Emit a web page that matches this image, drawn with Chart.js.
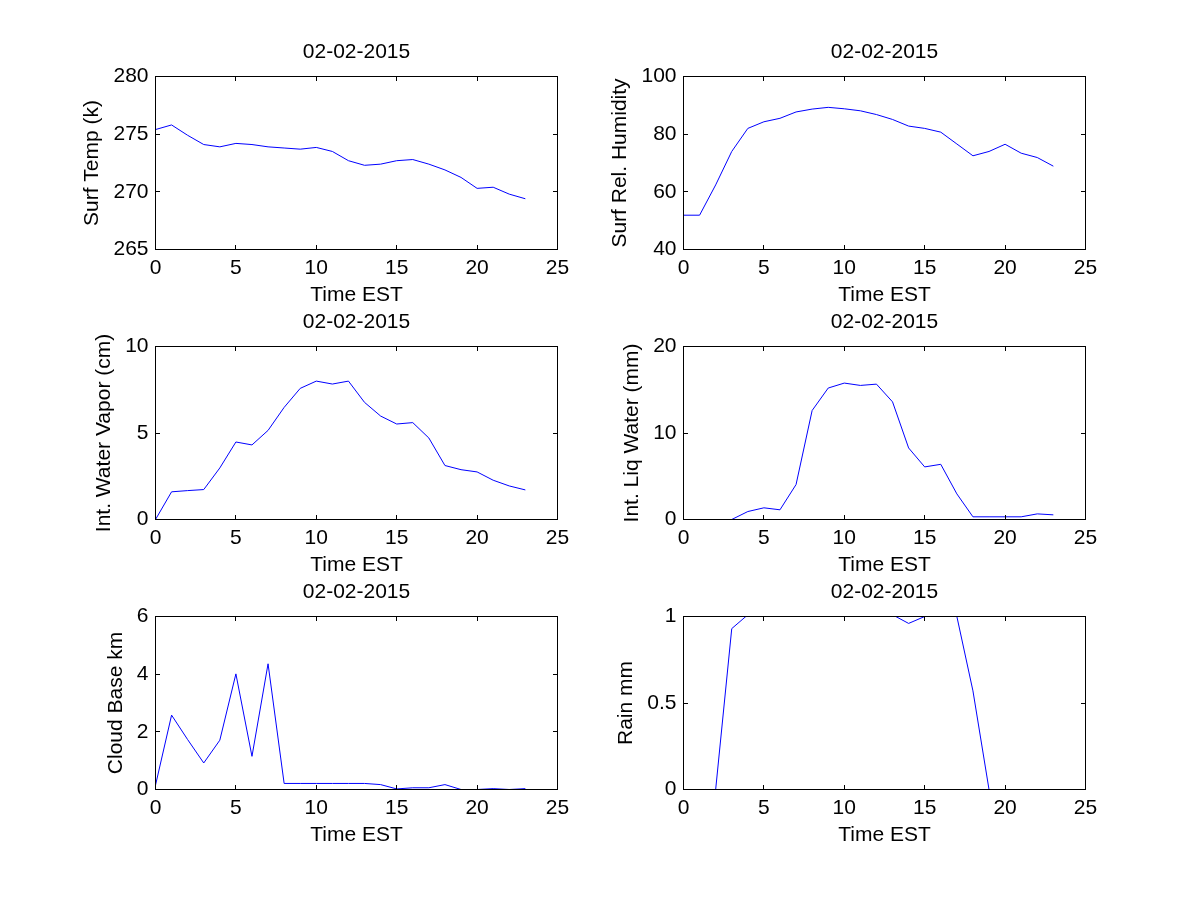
<!DOCTYPE html>
<html>
<head>
<meta charset="utf-8">
<title>02-02-2015</title>
<script src="https://cdn.jsdelivr.net/npm/chart.js@4.4.1/dist/chart.umd.min.js"></script>
<style>
  body { margin: 0; background: #fff; }
  #fig { position: relative; width: 1200px; height: 900px; background: #fff; overflow: hidden; }
  #fig canvas { position: absolute; }
</style>
</head>
<body>
<div id="fig"></div>
<script>
// data (hourly, EST)
const hours = [0,1,2,3,4,5,6,7,8,9,10,11,12,13,14,15,16,17,18,19,20,21,22,23];
const dateLabel = '02-02-2015';
const xTitle = 'Time EST';
const xTicks = [0, 25, 5];

const surfTemp = [275.4,275.8,274.9,274.1,273.9,274.2,274.1,273.9,273.8,273.7,273.85,273.5,272.7,272.3,272.4,272.7,272.8,272.4,271.9,271.25,270.3,270.4,269.8,269.4];
const surfHumidity = [51.9,51.9,62.4,74,82,84.3,85.5,87.7,88.7,89.3,88.8,88.1,86.8,85.1,82.8,82.0,80.7,76.6,72.5,74,76.5,73.4,71.9,68.9];
const waterVapor = [0,1.6,1.67,1.73,2.98,4.48,4.31,5.15,6.48,7.58,8.0,7.83,8.0,6.77,5.98,5.52,5.6,4.71,3.12,2.88,2.75,2.27,1.94,1.71];
const liqWater = [0,0,0,0,0.92,1.35,1.12,4.04,12.6,15.2,15.77,15.5,15.65,13.6,8.27,6.08,6.38,2.96,0.31,0.31,0.31,0.31,0.65,0.54];
const cloudBase = [0.15,2.58,1.73,0.92,1.71,4.01,1.15,4.36,0.21,0.21,0.21,0.21,0.21,0.21,0.17,0.02,0.06,0.06,0.17,0,0,0.03,0,0.03];
const rain = [0,0,0,0.93,1.01,1.6,2.4,3.1,3.5,3.2,2.8,2.1,1.4,1.01,0.96,1.0,1.2,1.0,0.57,0,0,0,0,0];

// panels: [column, row, y label, yMin, yMax, yStep, series]
const panels = [
  [0, 0, 'Surf Temp (k)', 265, 280, 5, surfTemp],
  [1, 0, 'Surf Rel. Humidity', 40, 100, 20, surfHumidity],
  [0, 1, 'Int. Water Vapor (cm)', 0, 10, 5, waterVapor],
  [1, 1, 'Int. Liq Water (mm)', 0, 20, 10, liqWater],
  [0, 2, 'Cloud Base km', 0, 6, 2, cloudBase],
  [1, 2, 'Rain mm', 0, 1, 0.5, rain]
];

const FONT = '"Liberation Sans", Arial, Helvetica, sans-serif';
const FS = 21;
const colLeft = [156, 684];
const rowTop = [77, 347, 617];
const PW = 402, PH = 173;
// half-pixel edges so the frame and a zero line land on the same pixel row
const AX_W = 99.5, PAD_R = 30.5, TITLE_H = 44.5, AX_H = 70.5;
const TICK = 4.5;

const measure = document.createElement('canvas').getContext('2d');
measure.font = FS + 'px ' + FONT;
const fmt = v => String(+(+v).toFixed(2));

// box round the axes with inward ticks on all four sides, like matlab
const boxPlugin = {
  id: 'box',
  afterDatasetsDraw(chart) {
    const { ctx, chartArea: a, scales: { x, y } } = chart;
    const half = p => Math.round(p - 0.5) + 0.5;
    ctx.save();
    ctx.strokeStyle = '#000';
    ctx.lineWidth = 1;
    ctx.beginPath();
    x.ticks.forEach(t => {
      const px = half(x.getPixelForValue(t.value));
      ctx.moveTo(px, a.bottom); ctx.lineTo(px, a.bottom - TICK);
      ctx.moveTo(px, a.top); ctx.lineTo(px, a.top + TICK);
    });
    y.ticks.forEach(t => {
      const py = half(y.getPixelForValue(t.value));
      ctx.moveTo(a.left, py); ctx.lineTo(a.left + TICK, py);
      ctx.moveTo(a.right, py); ctx.lineTo(a.right - TICK, py);
    });
    ctx.stroke();
    ctx.strokeRect(a.left, a.top, a.right - a.left, a.bottom - a.top);
    ctx.restore();
  }
};

function makePanel(col, row, yLabel, yMin, yMax, yStep, series) {
  const canvas = document.createElement('canvas');
  canvas.width = 100 + PW + 30;
  canvas.height = 45 + PH + 70;
  canvas.style.left = (colLeft[col] - 100) + 'px';
  canvas.style.top = (rowTop[row] - 45) + 'px';
  document.getElementById('fig').appendChild(canvas);

  // widest y tick label, so the y label sits just left of it
  let labelW = 0;
  for (let v = yMin; v <= yMax + 1e-9; v += yStep) {
    labelW = Math.max(labelW, measure.measureText(fmt(v)).width);
  }
  const yTitlePad = Math.max(0, AX_W - 8 - labelW - 20 - FS * 0.6);

  const points = hours.map((h, i) => ({ x: h, y: series[i] }));
  return new Chart(canvas, {
    type: 'scatter',
    data: { datasets: [{ data: points, showLine: true, borderColor: '#0000ff', borderWidth: 1,
      pointRadius: 0, pointHoverRadius: 0, tension: 0, clip: 0 }] },
    options: {
      responsive: false, animation: false, devicePixelRatio: 1,
      layout: { padding: { left: 0, right: PAD_R, top: 0, bottom: 0 } },
      plugins: {
        legend: { display: false }, tooltip: { enabled: false },
        title: { display: true, fullSize: false, text: dateLabel, color: '#000',
          font: { family: FONT, size: FS, weight: 'normal' },
          padding: { top: 7.5, bottom: TITLE_H - 7.5 - FS * 1.2 } }
      },
      scales: {
        x: {
          type: 'linear', min: xTicks[0], max: xTicks[1],
          grid: { display: false, drawTicks: false }, border: { display: false },
          ticks: { stepSize: xTicks[2], color: '#000', font: { family: FONT, size: FS }, padding: 6, maxRotation: 0, callback: fmt },
          title: { display: true, text: xTitle, color: '#000', font: { family: FONT, size: FS }, padding: { top: 0, bottom: 12.4 } },
          afterFit(s) { s.height = AX_H; }
        },
        y: {
          min: yMin, max: yMax,
          grid: { display: false, drawTicks: false }, border: { display: false },
          ticks: { stepSize: yStep, color: '#000', font: { family: FONT, size: FS }, padding: 7, callback: fmt },
          title: { display: true, text: yLabel, color: '#000', font: { family: FONT, size: FS }, padding: { top: yTitlePad, bottom: 0 } },
          afterFit(s) { s.width = AX_W; }
        }
      }
    },
    plugins: [boxPlugin]
  });
}

panels.forEach(p => makePanel(...p));
</script>
</body>
</html>
